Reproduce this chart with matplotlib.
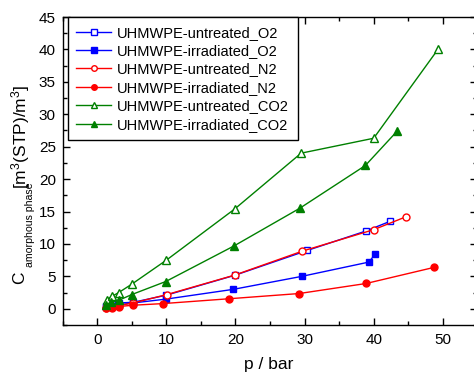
import matplotlib
matplotlib.use("Agg")
import matplotlib.pyplot as plt
from matplotlib.ticker import MultipleLocator

plt.rcParams['font.family'] = ['Liberation Sans', 'DejaVu Sans']
plt.rcParams['mathtext.fontset'] = 'custom'
plt.rcParams['mathtext.rm'] = 'Liberation Sans'
plt.rcParams['mathtext.it'] = 'Liberation Sans:italic'

# pressure (bar) and concentration in the amorphous phase
p_untr_o2 = [1.3, 2.1, 3.1, 5.2, 10.0, 20.0, 30.4, 38.9, 42.4]
c_untr_o2 = [0.5, 0.7, 0.9, 1.0, 2.1, 5.2, 9.0, 12.0, 13.5]

p_irr_o2 = [1.3, 2.1, 3.1, 5.2, 10.0, 19.7, 29.6, 39.3, 40.2]
c_irr_o2 = [0.35, 0.45, 0.6, 0.9, 1.5, 3.0, 5.0, 7.2, 8.4]

p_untr_n2 = [1.2, 2.1, 3.1, 5.2, 10.1, 19.9, 29.7, 40.0, 44.7]
c_untr_n2 = [0.1, 0.3, 0.5, 0.9, 2.2, 5.2, 8.9, 12.2, 14.2]

p_irr_n2 = [1.2, 2.1, 3.1, 5.2, 9.5, 19.1, 29.2, 38.9, 48.8]
c_irr_n2 = [0.05, 0.15, 0.35, 0.55, 0.8, 1.55, 2.35, 3.9, 6.4]

p_untr_co2 = [1.4, 2.1, 3.1, 5.0, 10.0, 19.9, 29.5, 40.0, 49.3]
c_untr_co2 = [1.4, 1.9, 2.5, 3.8, 7.5, 15.4, 24.0, 26.3, 40.0]

p_irr_co2 = [1.3, 2.0, 3.1, 5.0, 9.9, 19.8, 29.3, 38.8, 43.4]
c_irr_co2 = [0.6, 1.0, 1.3, 2.2, 4.2, 9.7, 15.5, 22.1, 27.4]

labels = ['UHMWPE-untreated_O2', 'UHMWPE-irradiated_O2',
          'UHMWPE-untreated_N2', 'UHMWPE-irradiated_N2',
          'UHMWPE-untreated_CO2', 'UHMWPE-irradiated_CO2']

W, H = 474, 373
fig = plt.figure(figsize=(W / 100, H / 100), dpi=100)
ax = fig.add_axes([0.1323, 0.1287, 0.8747, 0.8257])

blue, red, green = '#0000ff', '#ff0000', '#008000'
series = [
    (p_untr_o2, c_untr_o2, blue, 's', False),
    (p_irr_o2, c_irr_o2, blue, 's', True),
    (p_untr_n2, c_untr_n2, red, 'o', False),
    (p_irr_n2, c_irr_n2, red, 'o', True),
    (p_untr_co2, c_untr_co2, green, '^', False),
    (p_irr_co2, c_irr_co2, green, '^', True),
]
sizes = {'s': 4.6, 'o': 5.0, '^': 5.8}
for (x, y, col, mk, filled), lab in zip(series, labels):
    ax.plot(x, y, color=col, lw=1.0, marker=mk, ms=sizes[mk],
            mfc=col if filled else 'white', mec=col, mew=1.0, label=lab)

ax.set_xlim(-5, 55)
ax.set_ylim(-2.5, 45)
ax.xaxis.set_major_locator(MultipleLocator(10))
ax.xaxis.set_minor_locator(MultipleLocator(5))
ax.yaxis.set_major_locator(MultipleLocator(5))
ax.yaxis.set_minor_locator(MultipleLocator(2.5))
ax.tick_params(which='both', direction='in', top=True, right=True, labelsize=11)
ax.tick_params(which='major', length=5, width=1)
ax.tick_params(which='minor', length=3, width=1)
ax.tick_params(axis='x', which='major', pad=6)
ax.tick_params(axis='y', which='major', pad=5)
for s in ax.spines.values():
    s.set_linewidth(1.0)

# x label
fig.text(269 / W, 1 - 365 / H, 'p / bar', fontsize=12.5, ha='center', va='center')

# y label assembled from pieces: C, subscript, unit
fig.text(20 / W, 1 - 284 / H, 'C', fontsize=12.5, rotation=90, ha='center', va='bottom')
fig.text(30 / W, 1 - 267 / H, 'amorphous phase', fontsize=7.6, rotation=90,
         ha='center', va='bottom')
fig.text(21 / W, 1 - 189 / H, r'[m$^{\rm 3}$(STP)/m$^{\rm 3}$]', fontsize=12.5,
         rotation=90, ha='center', va='bottom')

leg = ax.legend(loc='upper left', bbox_to_anchor=(0.012, 1.0), fontsize=10.5,
                frameon=True, fancybox=False, edgecolor='black', framealpha=1,
                handlelength=2.4, handletextpad=0.4, borderpad=0.6, labelspacing=0.3,
                borderaxespad=0, markerscale=0.8)
leg.get_frame().set_linewidth(1.0)

fig.savefig('out.png', dpi=100)
